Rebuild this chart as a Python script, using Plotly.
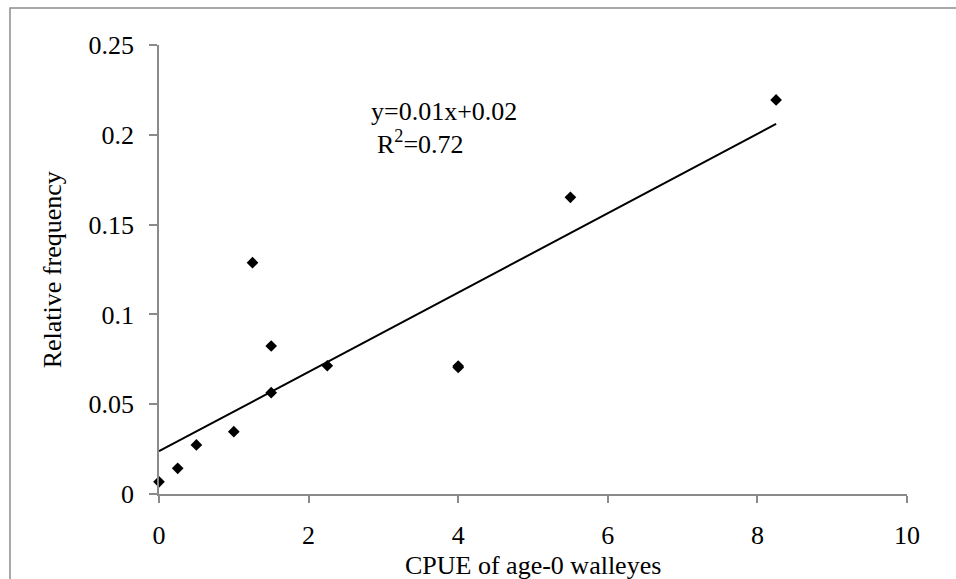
import numpy as np
import plotly.graph_objects as go

cpue = [0, 0.25, 0.5, 1.0, 1.25, 1.5, 1.5, 2.25, 4.0, 4.0, 5.5, 8.25]
rel_freq = [0.0068, 0.0143, 0.0273, 0.0347, 0.1288, 0.0824, 0.0564, 0.0714, 0.0705, 0.0712, 0.1652, 0.2194]

x_ticks = [0, 2, 4, 6, 8, 10]
y_ticks = [0, 0.05, 0.1, 0.15, 0.2, 0.25]
y_tick_text = ["0", "0.05", "0.1", "0.15", "0.2", "0.25"]

eq_text = "y=0.01x+0.02"
r2_text = "R<sup>2</sup>=0.72"
x_title = "CPUE of age-0 walleyes"
y_title = "Relative frequency"

slope, intercept = np.polyfit(cpue, rel_freq, 1)
fit_x = [min(cpue), max(cpue)]
fit_y = [slope * v + intercept for v in fit_x]

FONT = "Liberation Serif"
AX = "#8a8a8a"

fig = go.Figure()
fig.add_trace(go.Scatter(x=cpue, y=rel_freq, mode="markers",
                         marker=dict(symbol="diamond", size=9, color="black"),
                         showlegend=False, cliponaxis=False))
fig.add_trace(go.Scatter(x=fit_x, y=fit_y, mode="lines",
                         line=dict(color="black", width=2),
                         showlegend=False))

fig.update_layout(
    width=956, height=579,
    margin=dict(l=159, r=49, t=45, b=85),
    paper_bgcolor="white", plot_bgcolor="white",
    font=dict(family=FONT, size=26, color="black"),
    xaxis=dict(range=[0, 10], tickvals=x_ticks, showgrid=False, zeroline=False,
               showline=True, linecolor=AX, linewidth=1.5,
               ticks="outside", ticklen=7, tickcolor=AX, tickwidth=1.5,
               ticklabelstandoff=10,
               tickfont=dict(family=FONT, size=26, color="black")),
    yaxis=dict(range=[0, 0.25], tickvals=y_ticks, ticktext=y_tick_text,
               showgrid=False, zeroline=False,
               showline=True, linecolor=AX, linewidth=1.5,
               ticks="outside", ticklen=8, tickcolor=AX, tickwidth=1.5,
               ticklabelstandoff=10,
               tickfont=dict(family=FONT, size=26, color="black")),
)

fig.add_annotation(xref="paper", yref="paper", x=0.5, y=-0.16, yanchor="middle",
                   text=x_title, showarrow=False, font=dict(family=FONT, size=26))
fig.add_annotation(xref="paper", yref="paper", x=-0.142, y=0.5, xanchor="center",
                   text=y_title, textangle=-90, showarrow=False, font=dict(family=FONT, size=26))
fig.add_annotation(xref="paper", yref="paper", x=0.2807, y=0.8508, yanchor="middle",
                   text=eq_text, showarrow=False, font=dict(family=FONT, size=26))
fig.add_annotation(xref="paper", yref="paper", x=0.2894, y=0.782, yanchor="middle",
                   text=r2_text, showarrow=False, font=dict(family=FONT, size=26))

fig.add_shape(type="rect", xref="paper", yref="paper",
              x0=-0.1992, x1=1.2, y0=-0.4, y1=1.0824,
              line=dict(color="#8c8c8c", width=1.5), layer="below")

fig.write_html("out.html")
